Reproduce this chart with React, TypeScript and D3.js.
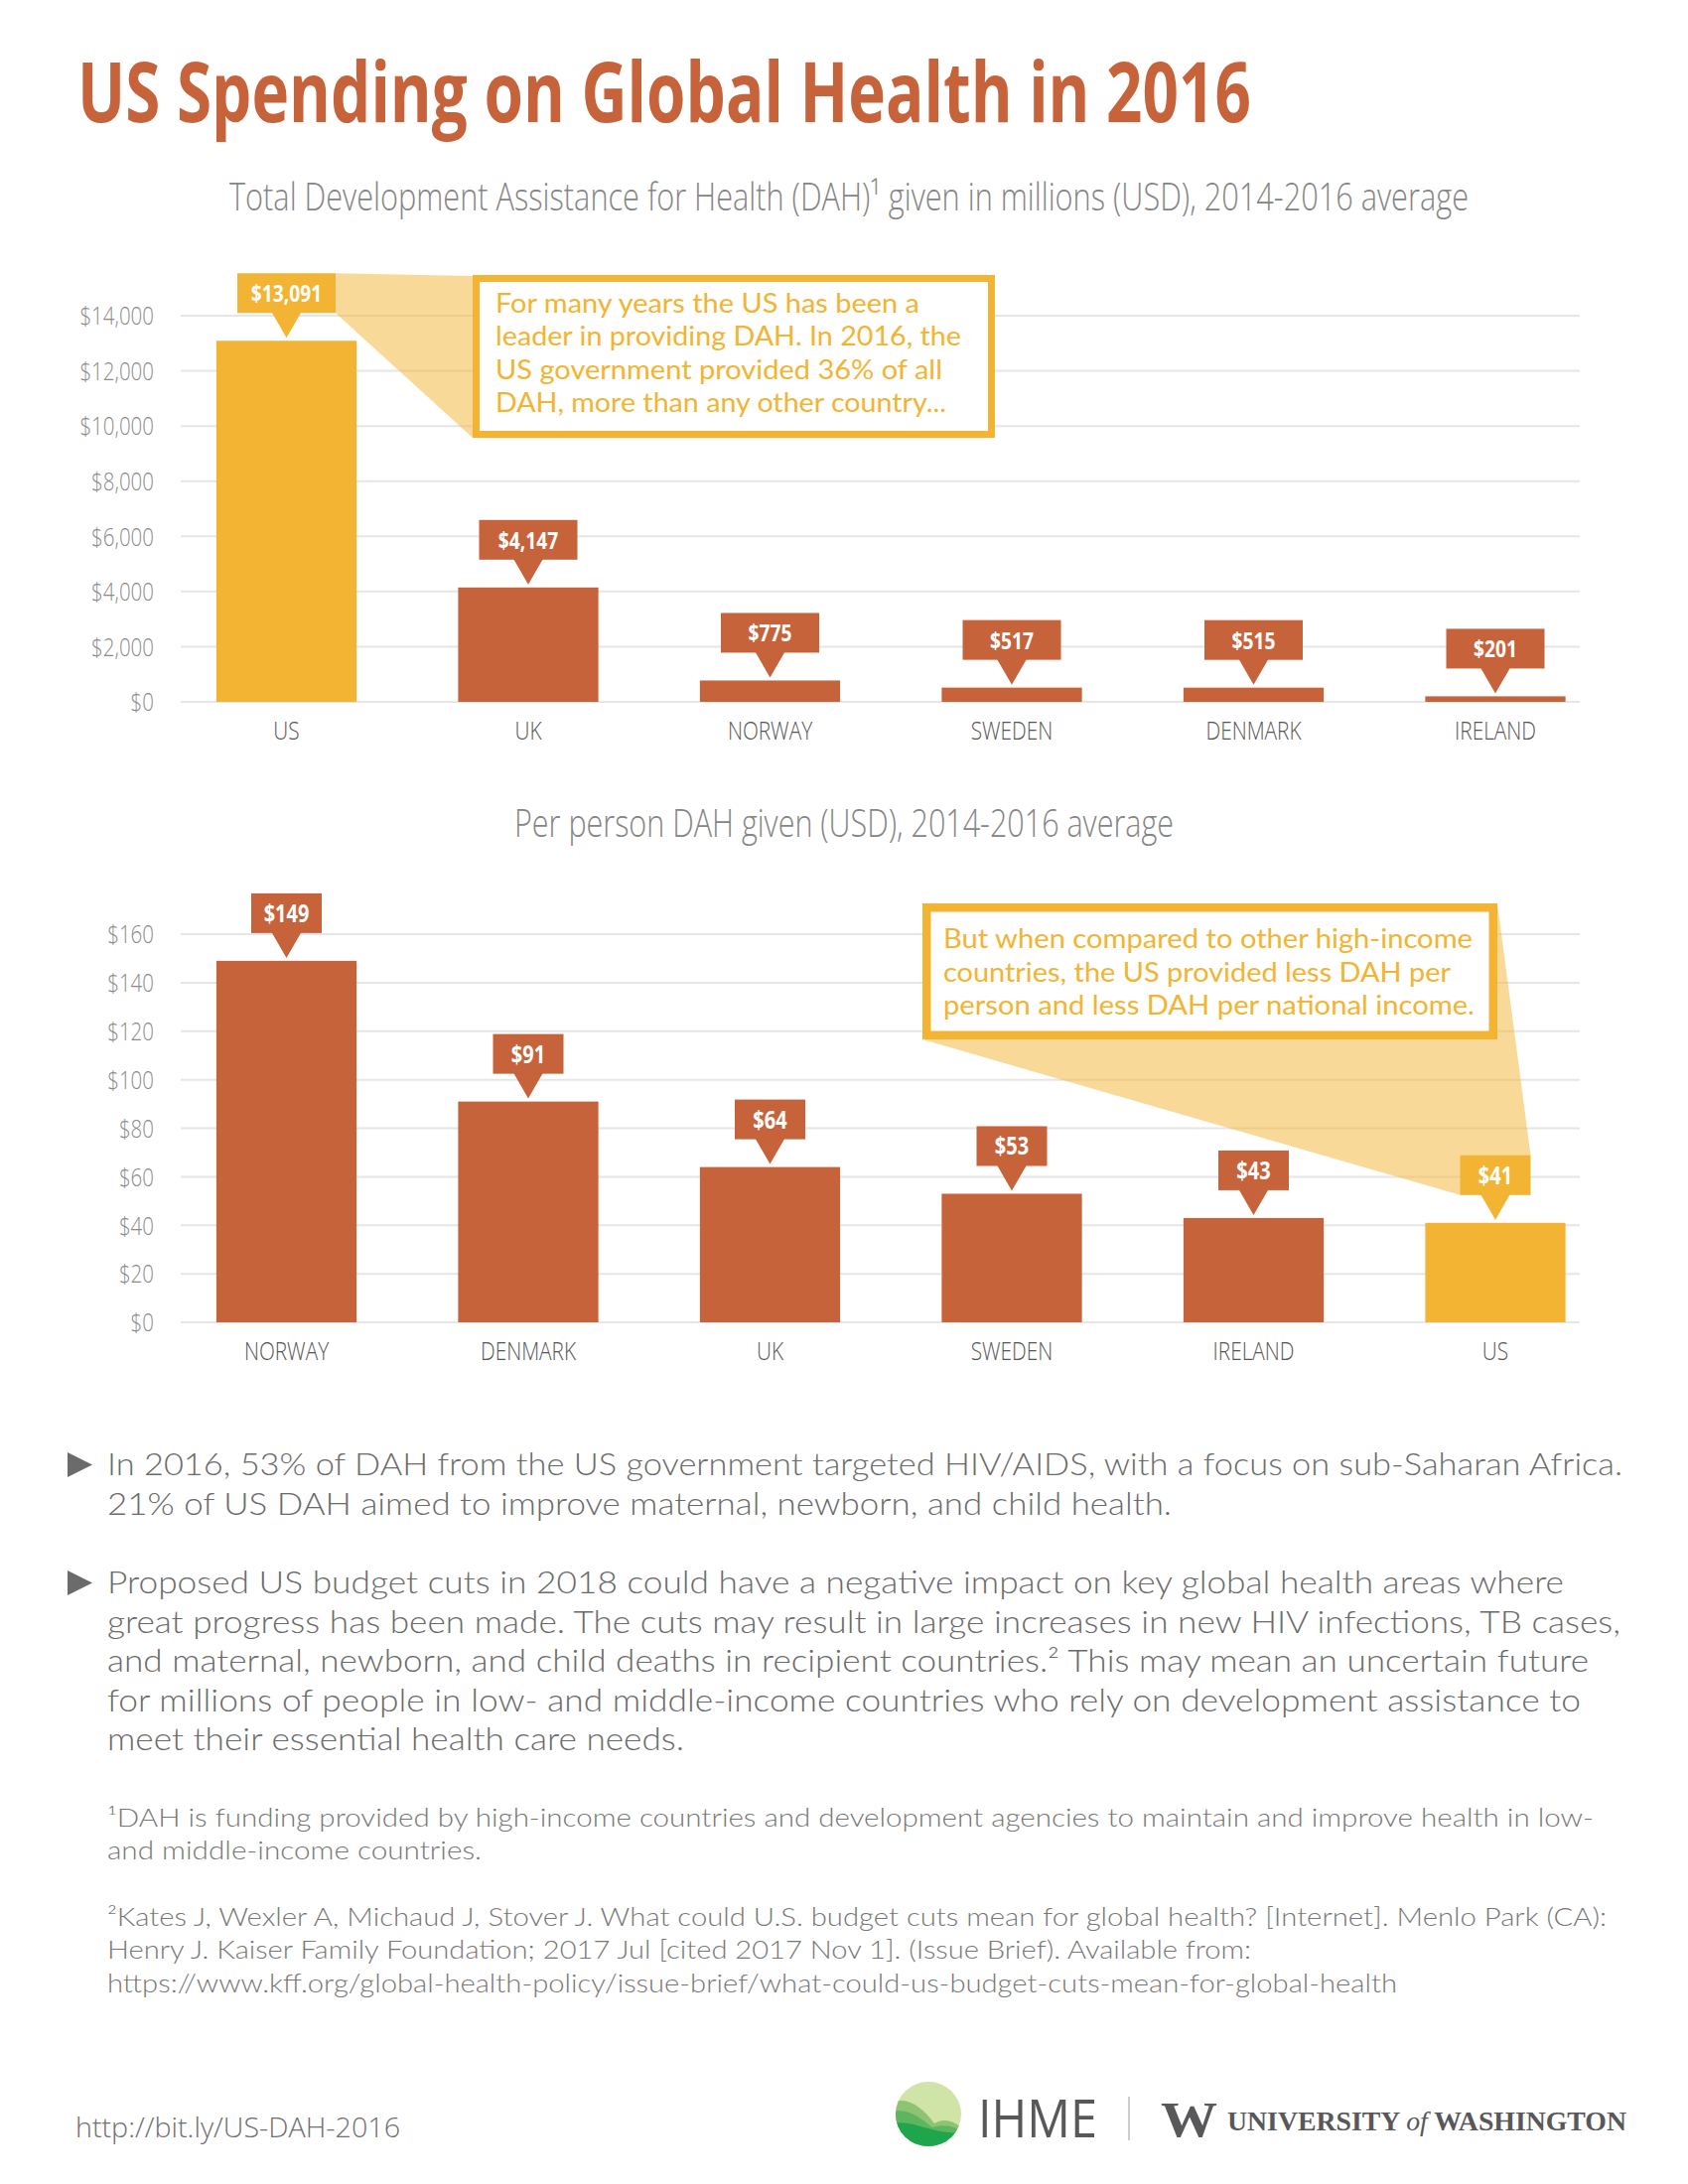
import React from "react";
import * as d3 from "d3";

// ---- data ----
const totalCountries = ["US", "UK", "NORWAY", "SWEDEN", "DENMARK", "IRELAND"];
const totalValues = [13091, 4147, 775, 517, 515, 201];
const totalTicks = [0, 2000, 4000, 6000, 8000, 10000, 12000, 14000];

const perPersonCountries = ["NORWAY", "DENMARK", "UK", "SWEDEN", "IRELAND", "US"];
const perPersonValues = [149, 91, 64, 53, 43, 41];
const perPersonTicks = [0, 20, 40, 60, 80, 100, 120, 140, 160];

const highlight = "US";

const noteA = [
  "For many years the US has been a",
  "leader in providing DAH. In 2016, the",
  "US government provided 36% of all",
  "DAH, more than any other country...",
];
const noteB = [
  "But when compared to other high-income",
  "countries, the US provided less DAH per",
  "person and less DAH per national income.",
];
const bullets = [
  [
    "In 2016, 53% of DAH from the US government targeted HIV/AIDS, with a focus on sub-Saharan Africa.",
    "21% of US DAH aimed to improve maternal, newborn, and child health.",
  ],
  [
    "Proposed US budget cuts in 2018 could have a negative impact on key global health areas where",
    "great progress has been made. The cuts may result in large increases in new HIV infections, TB cases,",
    "and maternal, newborn, and child deaths in recipient countries.² This may mean an uncertain future",
    "for millions of people in low- and middle-income countries who rely on development assistance to",
    "meet their essential health care needs.",
  ],
];
const footnotes = [
  [
    "¹DAH is funding provided by high-income countries and development agencies to maintain and improve health in low-",
    "and middle-income countries.",
  ],
  [
    "²Kates J, Wexler A, Michaud J, Stover J. What could U.S. budget cuts mean for global health? [Internet]. Menlo Park (CA):",
    "Henry J. Kaiser Family Foundation; 2017 Jul [cited 2017 Nov 1]. (Issue Brief). Available from:",
    "https://www.kff.org/global-health-policy/issue-brief/what-could-us-budget-cuts-mean-for-global-health",
  ],
];

// ---- layout (measured line widths, px) ----
const noteAWidths = [427, 469, 450, 454];
const noteBWidths = [533, 511, 535];
const bulletWidths = [
  [1526, 1072],
  [1467, 1524, 1492, 1484, 581],
];
const footnoteWidths = [
  [1497, 377],
  [1510, 1152, 1299],
];

const RUST = "#C6633B";
const GOLD = "#F2B432";
const GRID = "#E6E6E6";
const COND = "'Open Sans', 'Liberation Sans', sans-serif";
const BODY = "Lato, 'Open Sans', sans-serif";
const SERIF = "'Liberation Serif', 'DejaVu Serif', serif";

const fmt = d3.format("$,");

// condensed text: horizontal squeeze, then exact width via textLength
const Squeezed: React.FC<{
  x: number;
  y: number;
  width: number;
  sx: number;
  size: number;
  weight: number;
  fill: string;
  anchor?: "start" | "middle";
  children: React.ReactNode;
}> = ({ x, y, width, sx, size, weight, fill, anchor = "start", children }) => (
  <g transform={`translate(${x},${y}) scale(${sx},1)`}>
    <text
      textAnchor={anchor}
      textLength={width / sx}
      lengthAdjust="spacingAndGlyphs"
      fontFamily={COND}
      fontWeight={weight}
      fontSize={size}
      fill={fill}
    >
      {children}
    </text>
  </g>
);

interface PanelProps {
  countries: string[];
  values: number[];
  ticks: number[];
  yTop: number;
  yBottom: number;
  labelW: number;
  labelSize: number;
  callout: (box: { x0: number; x1: number; y0: number; y1: number }) => React.ReactNode;
}

const Panel: React.FC<PanelProps> = ({ countries, values, ticks, yTop, yBottom, labelW, labelSize, callout }) => {
  const x = d3
    .scaleBand<string>()
    .domain(countries)
    .range([166.75, 1627.75])
    .paddingInner(0.42)
    .paddingOuter(0.21);
  const y = d3
    .scaleLinear()
    .domain([0, ticks[ticks.length - 1]])
    .range([yBottom, yTop]);

  const labelBox = (c: string, v: number) => {
    const cx = (x(c) as number) + x.bandwidth() / 2;
    const tip = y(v) - 3;
    const y1 = tip - 25;
    return { cx, tip, x0: cx - labelW / 2, x1: cx + labelW / 2, y0: y1 - 40, y1 };
  };
  const hi = countries.indexOf(highlight);
  const hiBox = labelBox(highlight, values[hi]);

  return (
    <g>
      {/* grid */}
      {ticks.map((t) => (
        <g key={t}>
          <line x1={182} x2={1591} y1={y(t)} y2={y(t)} stroke={GRID} strokeWidth={2} />
          <g transform={`translate(155,${y(t)}) scale(0.82,1)`}>
            <text textAnchor="end" dominantBaseline="central" fontFamily={COND} fontWeight={300} fontSize={25} fill="#8a8a8a">
              {fmt(t)}
            </text>
          </g>
        </g>
      ))}
      {/* bars */}
      {countries.map((c, i) => (
        <rect
          key={c}
          x={x(c)}
          width={x.bandwidth()}
          y={y(values[i])}
          height={yBottom - y(values[i])}
          fill={c === highlight ? GOLD : RUST}
        />
      ))}
      {/* category labels */}
      {countries.map((c) => (
        <g key={c} transform={`translate(${(x(c) as number) + x.bandwidth() / 2},${yBottom + 38}) scale(0.8,1)`}>
          <text textAnchor="middle" fontFamily={COND} fontWeight={300} fontSize={26} fill="#555">
            {c}
          </text>
        </g>
      ))}
      {callout(hiBox)}
      {/* value labels */}
      {countries.map((c, i) => {
        const b = labelBox(c, values[i]);
        const col = c === highlight ? GOLD : RUST;
        return (
          <g key={c}>
            <rect x={b.x0} y={b.y0} width={labelW} height={40} fill={col} />
            <path d={`M${b.cx - 15},${b.y1 - 1}L${b.cx + 15},${b.y1 - 1}L${b.cx},${b.tip}Z`} fill={col} />
            <g transform={`translate(${b.cx},${b.y0 + 29}) scale(0.8,1)`}>
              <text textAnchor="middle" fontFamily={COND} fontWeight={700} fontSize={labelSize} fill="#fff">
                {fmt(values[i])}
              </text>
            </g>
          </g>
        );
      })}
    </g>
  );
};

const Lines: React.FC<{
  lines: string[];
  widths: number[];
  x: number;
  y: number;
  dy: number;
  size: number;
  fill: string;
  weight?: number;
}> = ({ lines, widths, x, y, dy, size, fill, weight = 400 }) => (
  <g>
    {lines.map((l, i) => (
      <text
        key={i}
        x={x}
        y={y + i * dy}
        textLength={widths[i]}
        lengthAdjust="spacingAndGlyphs"
        fontFamily={BODY}
        fontWeight={weight}
        fontSize={size}
        fill={fill}
      >
        {l}
      </text>
    ))}
  </g>
);

export default function App() {
  return (
    <div style={{ position: "absolute", left: 0, top: 0 }}>
      <svg width={1700} height={2200} style={{ display: "block", background: "#fff" }}>
        <rect width={1700} height={2200} fill="#fff" />

        <Squeezed x={78} y={123} width={1182} sx={0.66} size={85} weight={700} fill={RUST}>
          US Spending on Global Health in 2016
        </Squeezed>

        <Squeezed x={855} y={212} width={1248} sx={0.72} size={39} weight={300} fill="#858585" anchor="middle">
          Total Development Assistance for Health (DAH)¹ given in millions (USD), 2014-2016 average
        </Squeezed>

        <Panel
          countries={totalCountries}
          values={totalValues}
          ticks={totalTicks}
          yTop={318}
          yBottom={707}
          labelW={99}
          labelSize={24}
          callout={(b) => (
            <g>
              <polygon
                points={`${b.x1},${b.y0} 476,278 476,441 ${b.x1},${b.y1}`}
                fill={GOLD}
                fillOpacity={0.5}
              />
              <rect x={479.5} y={280.5} width={519} height={157} fill="#fff" stroke={GOLD} strokeWidth={7} />
              <Lines lines={noteA} widths={noteAWidths} x={499} y={315} dy={33.4} size={27} fill={GOLD} />
            </g>
          )}
        />

        <Squeezed x={850} y={843} width={664} sx={0.76} size={39} weight={300} fill="#858585" anchor="middle">
          Per person DAH given (USD), 2014-2016 average
        </Squeezed>

        <Panel
          countries={perPersonCountries}
          values={perPersonValues}
          ticks={perPersonTicks}
          yTop={941}
          yBottom={1332}
          labelW={71}
          labelSize={25}
          callout={(b) => (
            <g>
              <polygon
                points={`929,1047 1508,910 ${b.x1},${b.y0} ${b.x0},${b.y1}`}
                fill={GOLD}
                fillOpacity={0.5}
              />
              <rect x={933.25} y={914.25} width={570.5} height={128.5} fill="#fff" stroke={GOLD} strokeWidth={8.5} />
              <Lines lines={noteB} widths={noteBWidths} x={950} y={955} dy={33.5} size={27} fill={GOLD} />
            </g>
          )}
        />

        {/* bullets */}
        {bullets.map((b, i) => {
          const by = i === 0 ? 1486 : 1605;
          return (
            <g key={i}>
              <path d={`M68,${by - 23}L93,${by - 10.5}L68,${by + 2}Z`} fill="#6b6b6b" />
              <Lines lines={b} widths={bulletWidths[i]} x={108} y={by} dy={39.5} size={31} fill="#6a6a6a" weight={300} />
            </g>
          );
        })}

        {/* footnotes */}
        {footnotes.map((f, i) => (
          <Lines key={i} lines={f} widths={footnoteWidths[i]} x={108} y={i === 0 ? 1840 : 1940} dy={33.4} size={25} fill="#777" weight={300} />
        ))}

        <Squeezed x={76} y={2153} width={327} sx={0.8} size={28} weight={300} fill="#707070">
          http://bit.ly/US-DAH-2016
        </Squeezed>

        {/* IHME logo */}
        <defs>
          <clipPath id="ihmeClip">
            <ellipse cx={935} cy={2129.5} rx={33} ry={32.5} />
          </clipPath>
        </defs>
        <ellipse cx={935} cy={2129.5} rx={33} ry={32.5} fill="#D1E4A7" />
        <g clipPath="url(#ihmeClip)">
          <path d="M900,2118 C914,2111 930,2124 941,2139 C949,2134 959,2135 968,2143 L968,2170 L900,2170 Z" fill="#8DC372" />
          <path d="M900,2127 C914,2123 928,2134 939,2143 C948,2140 959,2141 968,2146 L968,2170 L900,2170 Z" fill="#5FB45F" />
          <path d="M900,2139 C920,2135 940,2151 968,2148 L968,2170 L900,2170 Z" fill="#1EA64C" />
        </g>
        <text x={985} y={2153} textLength={120} lengthAdjust="spacingAndGlyphs" fontFamily={COND} fontWeight={400} fontSize={53} fill="#58585A">
          IHME
        </text>
        <line x1={1137} x2={1137} y1={2112} y2={2156} stroke="#bdbdbd" strokeWidth={1.5} />
        <text x={1169} y={2152} textLength={57} lengthAdjust="spacingAndGlyphs" fontFamily={SERIF} fontWeight={700} fontSize={50} fill="#58585A">
          W
        </text>
        <text x={1236} y={2146} textLength={402} lengthAdjust="spacingAndGlyphs" fontFamily={SERIF} fontWeight={700} fontSize={28} fill="#58585A">
          UNIVERSITY <tspan fontStyle="italic" fontWeight={400}>of</tspan> WASHINGTON
        </text>
      </svg>
    </div>
  );
}
